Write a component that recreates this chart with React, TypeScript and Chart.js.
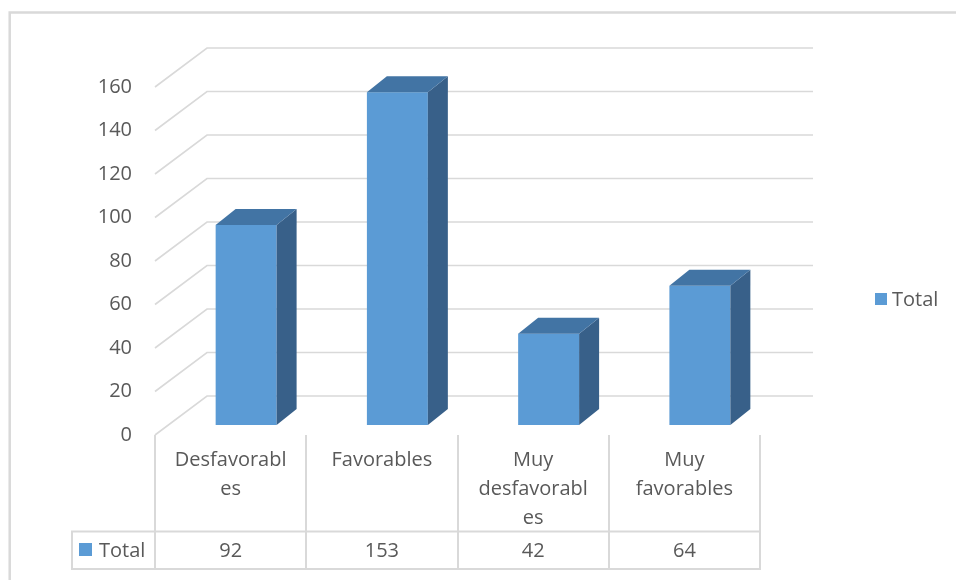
import React, { useEffect, useRef } from "react";
import { Chart, registerables } from "chart.js";

Chart.register(...registerables);

const categories = ["Desfavorables", "Favorables", "Muy desfavorables", "Muy favorables"];
const categoryLabelLines = [["Desfavorabl", "es"], ["Favorables"], ["Muy", "desfavorabl", "es"], ["Muy", "favorables"]];
const seriesName = "Total";
const totals = [92, 153, 42, 64];
const yMin = 0;
const yMax = 160;
const yStep = 20;

const FONT = '"Open Sans", "Noto Sans", sans-serif';
const TEXT = "#595959";
const GRID = "#D9D9D9";
const FRONT = "#5B9BD5";
const TOPC = "#4274A4";
const SIDE = "#386089";

const WALL_DX = 52;
const WALL_DY = 39;
const BAR_DX = 15.5;
const BAR_DY = 10;
const DEPTH_DX = 20;
const DEPTH_DY = 16;

const threeD = {
  id: "threeD",
  beforeDatasetsDraw(chart: any) {
    const { ctx, chartArea: ca, scales } = chart;
    const y = scales.y;
    ctx.save();
    ctx.strokeStyle = GRID;
    ctx.lineWidth = 1.6;
    y.ticks.forEach((t: any) => {
      const fy = y.getPixelForValue(t.value);
      const by = fy - WALL_DY;
      ctx.beginPath();
      ctx.moveTo(ca.left, fy);
      ctx.lineTo(ca.left + WALL_DX, by);
      ctx.lineTo(ca.right + WALL_DX + 1, by);
      ctx.stroke();
    });
    ctx.restore();
  },
  afterDatasetsDraw(chart: any) {
    const { ctx, chartArea: ca, scales } = chart;
    const xs = scales.x;
    const meta = chart.getDatasetMeta(0);
    ctx.save();
    // bars
    meta.data.forEach((el: any) => {
      const p = el.getProps(["x", "y", "base", "width"], true);
      const left = p.x - p.width / 2 + BAR_DX;
      const right = p.x + p.width / 2 + BAR_DX;
      const top = p.y - BAR_DY;
      const bottom = p.base - BAR_DY;
      ctx.fillStyle = FRONT;
      ctx.fillRect(left, top, right - left, bottom - top);
      ctx.fillStyle = SIDE;
      ctx.beginPath();
      ctx.moveTo(right, top);
      ctx.lineTo(right + DEPTH_DX, top - DEPTH_DY);
      ctx.lineTo(right + DEPTH_DX, bottom - DEPTH_DY);
      ctx.lineTo(right, bottom);
      ctx.closePath();
      ctx.fill();
      ctx.fillStyle = TOPC;
      ctx.beginPath();
      ctx.moveTo(left, top);
      ctx.lineTo(left + DEPTH_DX, top - DEPTH_DY);
      ctx.lineTo(right + DEPTH_DX, top - DEPTH_DY);
      ctx.lineTo(right, top);
      ctx.closePath();
      ctx.fill();
    });

    // data table
    const band = (ca.right - ca.left) / categories.length;
    const rowTop = 531.5;
    const rowBottom = 569;
    const tableLeft = 72;
    ctx.strokeStyle = GRID;
    ctx.lineWidth = 2;
    for (let i = 0; i <= categories.length; i++) {
      const xx = Math.round(ca.left + i * band);
      ctx.beginPath();
      ctx.moveTo(xx, ca.bottom);
      ctx.lineTo(xx, rowBottom);
      ctx.stroke();
    }
    ctx.beginPath();
    ctx.moveTo(tableLeft, rowTop);
    ctx.lineTo(ca.right + 1, rowTop);
    ctx.moveTo(tableLeft, rowBottom);
    ctx.lineTo(ca.right + 1, rowBottom);
    ctx.moveTo(tableLeft, rowTop - 1);
    ctx.lineTo(tableLeft, rowBottom + 1);
    ctx.stroke();

    ctx.font = `20px ${FONT}`;
    ctx.fillStyle = TEXT;
    ctx.textAlign = "center";
    ctx.textBaseline = "middle";
    categoryLabelLines.forEach((lines, i) => {
      const cx = xs.getPixelForValue(i);
      lines.forEach((ln, j) => {
        ctx.fillText(ln, cx, 460 + j * 29);
      });
      ctx.fillText(String(totals[i]), cx, 551);
    });
    // table legend key
    ctx.fillStyle = FRONT;
    ctx.fillRect(79, 543, 13, 13);
    ctx.fillStyle = TEXT;
    ctx.textAlign = "left";
    ctx.fillText(seriesName, 99, 551);

    // right legend
    ctx.fillStyle = FRONT;
    ctx.fillRect(875, 293, 12, 12);
    ctx.fillStyle = TEXT;
    ctx.fillText(seriesName, 892, 300);

    // outer frame
    ctx.strokeStyle = GRID;
    ctx.lineWidth = 2.5;
    ctx.beginPath();
    ctx.moveTo(9.7, 580);
    ctx.lineTo(9.7, 12.5);
    ctx.lineTo(956, 12.5);
    ctx.stroke();
    ctx.restore();
  },
};

export default function App() {
  const ref = useRef<HTMLCanvasElement | null>(null);
  useEffect(() => {
    if (!ref.current) return;
    const chart = new Chart(ref.current, {
      type: "bar",
      data: {
        labels: categories,
        datasets: [
          {
            label: seriesName,
            data: totals,
            backgroundColor: "rgba(0,0,0,0)",
            borderWidth: 0,
            categoryPercentage: 1,
            barPercentage: 0.403,
          },
        ],
      },
      options: {
        animation: false,
        responsive: false,
        devicePixelRatio: 1,
        layout: { padding: { left: 0, right: 196, top: 87, bottom: 145 } },
        plugins: { legend: { display: false }, tooltip: { enabled: false } },
        scales: {
          x: { display: false, offset: true },
          y: {
            min: yMin,
            max: yMax,
            ticks: { stepSize: yStep, padding: 23, color: TEXT, font: { family: FONT, size: 20 } },
            grid: { display: false, drawTicks: false },
            border: { display: false },
            afterFit: (s: any) => {
              s.width = 155;
            },
          },
        },
      },
      plugins: [threeD],
    });
    return () => chart.destroy();
  }, []);
  return (
    <div style={{ position: "absolute", left: 0, top: 0, width: 956, height: 580, background: "#fff" }}>
      <canvas ref={ref} width={956} height={580} />
    </div>
  );
}
